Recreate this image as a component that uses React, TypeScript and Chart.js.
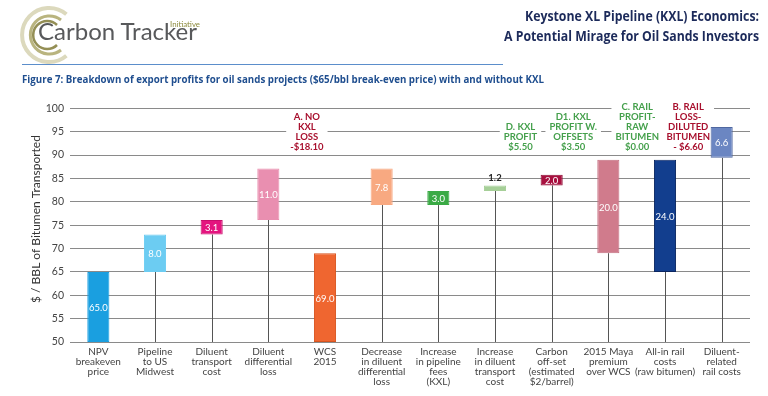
import React, { useEffect, useRef } from "react";
import { Chart, registerables } from "chart.js";
Chart.register(...registerables);

const categories: string[][] = [
  ["NPV", "breakeven", "price"],
  ["Pipeline", "to US", "Midwest"],
  ["Diluent", "transport", "cost"],
  ["Diluent", "differential", "loss"],
  ["WCS", "2015"],
  ["Decrease", "in diluent", "differential", "loss"],
  ["Increase", "in pipeline", "fees", "(KXL)"],
  ["Increase", "in diluent", "transport", "cost"],
  ["Carbon", "off-set", "(estimated", "$2/barrel)"],
  ["2015 Maya", "premium", "over WCS"],
  ["All-in rail", "costs", "(raw bitumen)"],
  ["Diluent-", "related", "rail costs"],
];

const barStarts = [50, 65, 73, 76.1, 50, 79.3, 79.3, 82.3, 83.5, 69, 65, 89.4];
const barEnds = [65, 73, 76.1, 87.1, 69, 87.1, 82.3, 83.5, 85.8, 89, 89, 96];
const valueLabels = ["65.0", "8.0", "3.1", "11.0", "69.0", "7.8", "3.0", "1.2", "2.0", "20.0", "24.0", "6.6"];
const labelAbove = [false, false, false, false, false, false, false, true, false, false, false, false];

const barColors = ["#1a9fe0", "#6cccf2", "#e4147f", "#e98fb0", "#ef6630", "#f8a981", "#3aaa45", "#a6cf98", "#a8103f", "#d07b8c", "#123e8e", "#6b86c2"];
const barBorders = ["#1a9fe0", "#6cccf2", "#c80f6c", "#e98fb0", "#d8541f", "#f8a981", "#3aaa45", "#a6cf98", "#8e0c34", "#c46f80", "#0a2560", "#4f67a0"];

const yMin = 50;
const yMax = 100;
const yStep = 5;

const annotationTexts: string[][] = [
  ["A. NO", "KXL", "LOSS", "-$18.10"],
  ["D. KXL", "PROFIT", "$5.50"],
  ["D1. KXL", "PROFIT W.", "OFFSETS", "$3.50"],
  ["C. RAIL", "PROFIT-", "RAW", "BITUMEN", "$0.00"],
  ["B. RAIL", "LOSS-", "DILUTED", "BITUMEN", "- $6.60"],
];
const annotationPositions = [3.68, 7.45, 8.38, 9.51, 10.41];
const annotationColors = ["#a8102e", "#45a04c", "#45a04c", "#45a04c", "#a8102e"];
const annotationBaseValue = 91.8;

const yTitle = "$ / BBL of Bitumen Transported";

const FONT = "Lato, 'Open Sans', sans-serif";

const overlayPlugin = {
  id: "overlay",
  beforeDatasetsDraw(chart: any) {
    const { ctx } = chart;
    const x = chart.scales.x;
    const y = chart.scales.y;
    ctx.save();
    ctx.font = `bold 9.5px ${FONT}`;
    ctx.textAlign = "center";
    ctx.textBaseline = "middle";
    const lh = 9.8;
    annotationTexts.forEach((lines, k) => {
      const cx = x.getPixelForValue(annotationPositions[k]);
      const lastY = y.getPixelForValue(annotationBaseValue);
      const w = Math.max(...lines.map((l) => ctx.measureText(l).width)) + 8;
      const top = lastY - (lines.length - 1) * lh - lh / 2 - 1;
      const bottom = lastY + 3.5;
      ctx.fillStyle = "#ffffff";
      ctx.fillRect(cx - w / 2, top, w, bottom - top);
      ctx.fillStyle = annotationColors[k];
      lines.forEach((l, i) => ctx.fillText(l, cx, lastY - (lines.length - 1 - i) * lh));
    });
    ctx.strokeStyle = "#555555";
    ctx.lineWidth = 1;
    barStarts.forEach((s, i) => {
      if (s <= yMin) return;
      const px = Math.round(x.getPixelForValue(i)) + 0.5;
      ctx.beginPath();
      ctx.moveTo(px, y.getPixelForValue(yMin));
      ctx.lineTo(px, y.getPixelForValue(s));
      ctx.stroke();
    });
    ctx.restore();
  },
  afterDatasetsDraw(chart: any) {
    const { ctx } = chart;
    const y = chart.scales.y;
    const meta = chart.getDatasetMeta(0);
    ctx.save();
    ctx.textAlign = "center";
    ctx.textBaseline = "middle";
    meta.data.forEach((el: any, i: number) => {
      if (labelAbove[i]) {
        ctx.font = `bold 9.5px ${FONT}`;
        ctx.fillStyle = "#222222";
        ctx.fillText(valueLabels[i], el.x, y.getPixelForValue(barEnds[i]) - 7);
      } else {
        ctx.font = `9.5px ${FONT}`;
        ctx.fillStyle = "#ffffff";
        ctx.fillText(valueLabels[i], el.x, y.getPixelForValue((barStarts[i] + barEnds[i]) / 2) + 1);
      }
    });
    ctx.restore();
  },
  afterDraw(chart: any) {
    const { ctx } = chart;
    ctx.save();
    ctx.translate(36, 219);
    ctx.rotate(-Math.PI / 2);
    ctx.font = `12px ${FONT}`;
    ctx.fillStyle = "#333333";
    ctx.textAlign = "center";
    ctx.textBaseline = "middle";
    ctx.fillText(yTitle, 0, 0);
    ctx.restore();
  },
};

export default function App() {
  const canvasRef = useRef<HTMLCanvasElement | null>(null);

  useEffect(() => {
    if (!canvasRef.current) return;
    const chart = new Chart(canvasRef.current, {
      type: "bar",
      data: {
        labels: categories,
        datasets: [
          {
            data: barStarts.map((s, i) => [s, barEnds[i]]) as any,
            backgroundColor: barColors,
            borderColor: barBorders,
            borderWidth: 1,
            borderSkipped: false,
            categoryPercentage: 1,
            barPercentage: 0.39,
          },
        ],
      },
      options: {
        animation: false,
        responsive: false,
        maintainAspectRatio: false,
        events: [],
        layout: { padding: { top: 108.3, right: 18, left: 0, bottom: 0 } },
        plugins: {
          legend: { display: false },
          tooltip: { enabled: false },
          title: { display: false },
        },
        scales: {
          x: {
            grid: { display: false, drawTicks: false },
            border: { display: false },
            ticks: {
              color: "#444444",
              font: { family: FONT, size: 10, lineHeight: 1.0 },
              padding: 5,
              maxRotation: 0,
              autoSkip: false,
            },
            afterFit: (scale: any) => {
              scale.height = 54;
            },
          },
          y: {
            min: yMin,
            max: yMax,
            grid: { color: "#8a8a8a", lineWidth: 1, drawTicks: false },
            border: { display: false },
            ticks: {
              stepSize: yStep,
              color: "#444444",
              font: { family: FONT, size: 10.5 },
              padding: 6,
            },
            afterFit: (scale: any) => {
              scale.width = 70;
            },
          },
        },
      },
      plugins: [overlayPlugin],
    });
    return () => chart.destroy();
  }, []);

  return (
    <div style={{ position: "absolute", left: 0, top: 0, width: 768, height: 396, background: "#ffffff", overflow: "hidden" }}>
      <canvas ref={canvasRef} width={768} height={396} style={{ position: "absolute", left: 0, top: 0, width: 768, height: 396 }} />
      <svg width={768} height={100} style={{ position: "absolute", left: 0, top: 0, pointerEvents: "none" }}>
        <path d="M 66.4 14.3 A 27 27 0 1 0 66.4 55.7" fill="none" stroke="#dcd9bd" strokeWidth={4} />
        <path d="M 61 20 A 19 19 0 1 0 61 50" fill="none" stroke="#b9b47f" strokeWidth={3} />
        <path d="M 57 25 A 14 14 0 1 0 57 45" fill="none" stroke="#948f55" strokeWidth={2.5} />
        <text x={38} y={40} fontFamily={FONT} fontSize={24} fill="#58595b" textLength={159} lengthAdjust="spacingAndGlyphs">Carbon Tracker</text>
        <text x={170} y={27} fontFamily={FONT} fontSize={7} fill="#8c8a3c" textLength={30} lengthAdjust="spacingAndGlyphs">Initiative</text>
        <text x={759} y={21} textAnchor="end" fontFamily="'Open Sans', sans-serif" fontWeight="bold" fontSize={14} fill="#1c2a5a" textLength={234} lengthAdjust="spacingAndGlyphs">Keystone XL Pipeline (KXL) Economics:</text>
        <text x={759} y={41} textAnchor="end" fontFamily="'Open Sans', sans-serif" fontWeight="bold" fontSize={14} fill="#1c2a5a" textLength={255} lengthAdjust="spacingAndGlyphs">A Potential Mirage for Oil Sands Investors</text>
        <line x1={22} y1={64.5} x2={503} y2={64.5} stroke="#5b8ecb" strokeWidth={1} />
        <text x={22} y={83} fontFamily="'Open Sans', sans-serif" fontWeight="bold" fontSize={10.5} fill="#1f4e8f" textLength={522} lengthAdjust="spacingAndGlyphs">Figure 7: Breakdown of export profits for oil sands projects ($65/bbl break-even price) with and without KXL</text>
      </svg>
    </div>
  );
}
